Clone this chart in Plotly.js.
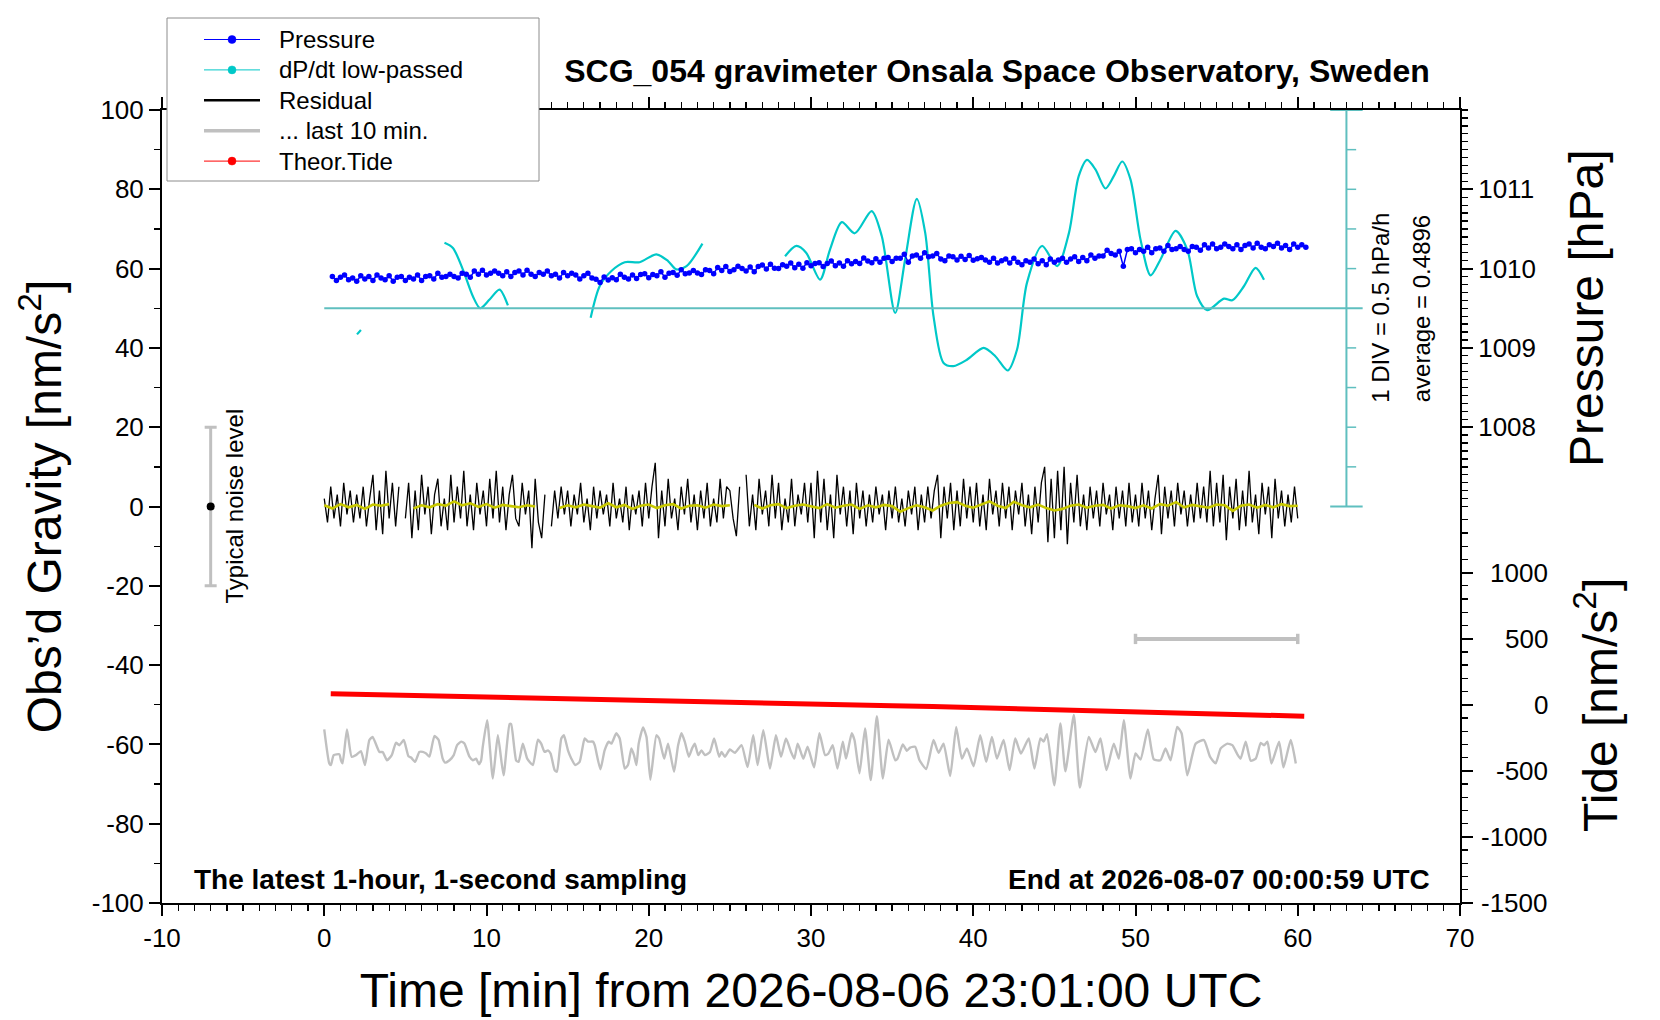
<!DOCTYPE html>
<html><head><meta charset="utf-8">
<script src="https://cdn.plot.ly/plotly-3.0.1.min.js"></script>
<style>html,body{margin:0;padding:0;background:#fff}#chart{width:1660px;height:1020px}</style>
</head><body><div id="chart"></div>
<script>
// ---------------- DATA ----------------
const chartTitle = 'SCG_054 gravimeter Onsala Space Observatory, Sweden';
const xTitle = 'Time [min] from 2026-08-06 23:01:00 UTC';
const endText = 'End at 2026-08-07 00:00:59 UTC';
const windowText = 'The latest 1-hour, 1-second sampling';

const xTickVals = [-10,0,10,20,30,40,50,60,70];
const xTickText = ['-10','0','10','20','30','40','50','60','70'];
const gTickVals = [-100,-80,-60,-40,-20,0,20,40,60,80,100];
const gTickText = ['-100','-80','-60','-40','-20','0','20','40','60','80','100'];
const pTickVals = [1008,1009,1010,1011];
const pTickText = ['1008','1009','1010','1011'];
const tideTickVals = [-1500,-1000,-500,0,500,1000];
const tideTickText = ['-1500','-1000','-500','0','500','1000'];

// Pressure [hPa], every 0.25 min from 0.5 min
const pressureStart = 0.5, pressureStep = 0.25;
const pressure = [
 1009.90,1009.85,1009.89,1009.92,1009.86,1009.88,1009.84,1009.91,1009.87,1009.90,1009.85,1009.92,1009.88,1009.86,1009.91,1009.84,1009.89,1009.90,1009.85,1009.89,
 1009.87,1009.92,1009.85,1009.90,1009.91,1009.87,1009.94,1009.89,1009.90,1009.93,1009.90,1009.88,1009.94,1009.93,1009.89,1009.97,1009.93,1009.98,1009.92,1009.94,
 1009.97,1009.94,1009.91,1009.96,1009.90,1009.95,1009.97,1009.92,1009.98,1009.93,1009.90,1009.95,1009.93,1009.97,1009.91,1009.93,1009.88,1009.95,1009.91,1009.94,
 1009.92,1009.87,1009.91,1009.94,1009.88,1009.865,1009.825,1009.895,1009.855,1009.885,1009.86,1009.93,1009.89,1009.87,1009.92,1009.875,1009.925,1009.935,1009.885,1009.925,
 1009.91,1009.96,1009.89,1009.94,1009.95,1009.915,1009.985,1009.935,1009.945,1009.975,1009.945,1009.925,1009.985,1009.975,1009.935,1010.015,1009.975,1010.025,1009.965,1009.985,
 1010.03,1010.00,1009.97,1010.02,1009.96,1010.025,1010.045,1009.995,1010.055,1010.005,1010.00,1010.05,1010.03,1010.07,1010.01,1010.055,1010.005,1010.075,1010.035,1010.065,
 1010.075,1010.025,1010.065,1010.095,1010.035,1010.07,1010.03,1010.10,1010.06,1010.09,1010.065,1010.135,1010.095,1010.075,1010.125,1010.08,1010.13,1010.14,1010.09,1010.13,
 1010.13,1010.18,1010.08,1010.16,1010.17,1010.13,1010.20,1010.15,1010.16,1010.19,1010.12,1010.10,1010.16,1010.15,1010.11,1010.155,1010.115,1010.165,1010.105,1010.125,
 1010.14,1010.11,1010.08,1010.13,1010.07,1010.10,1010.12,1010.07,1010.13,1010.08,1010.05,1010.10,1010.08,1010.12,1010.06,1010.10,1010.05,1010.12,1010.08,1010.11,
 1010.13,1010.08,1010.12,1010.15,1010.09,1010.14,1010.10,1010.17,1010.13,1010.16,1010.16,1010.23,1010.19,1010.17,1010.22,1010.03,1010.24,1010.25,1010.20,1010.24,
 1010.22,1010.27,1010.20,1010.25,1010.26,1010.22,1010.29,1010.24,1010.25,1010.28,1010.24,1010.22,1010.28,1010.27,1010.23,1010.30,1010.26,1010.31,1010.25,1010.27,
 1010.31,1010.28,1010.25,1010.30,1010.24,1010.29,1010.31,1010.26,1010.32,1010.27,1010.25,1010.30,1010.28,1010.32,1010.26,1010.29,1010.24,1010.31,1010.27,1010.30,
 1010.27
];

// dP/dt low-passed [hPa/h]
const dpdtAverage = 0.4896;
const dpdtDiv = 0.5;
const dpdtTime = [2.02,2.26,4.5,
 7.41,7.93,8.54,9.16,9.61,10.19,10.8,11.32,14.0,
 16.42,16.98,17.7,18.52,19.44,20.47,21.19,21.7,22.33,23.31,26.0,
 28.4,29.1,29.7,30.56,31.17,31.9,32.7,33.74,34.36,35.19,35.8,36.52,37.04,37.55,
 38.17,38.78,39.61,40.64,41.36,42.12,42.7,43.31,44.24,45.17,45.9,46.5,47.02,47.53,
 48.15,48.66,49.18,49.69,50.31,50.93,51.54,52.47,53.19,53.8,54.42,55.45,55.97,
 56.69,57.4,57.92];
const dpdtValue = [0.160,0.215,null,
 1.315,1.250,0.980,0.640,0.490,0.600,0.725,0.525,null,
 0.370,0.770,0.960,1.070,1.070,1.170,1.085,0.980,1.020,1.305,null,
 1.145,1.275,1.190,0.850,1.230,1.575,1.435,1.715,1.400,0.430,1.105,1.870,1.440,0.390,
 -0.200,-0.240,-0.160,-0.010,-0.115,-0.295,-0.030,0.810,1.275,1.020,1.440,2.155,2.360,2.240,
 2.000,2.155,2.340,2.115,1.355,0.905,1.105,1.465,1.230,0.640,0.465,0.610,0.590,
 0.770,1.000,0.850];

// Residual [nm/s^2], every 0.2 min from 0
const residualStart = 0, residualStep = 0.2;
const residual = [
 2,-4,5,-3,3,-5,6,-2,4,-4,3,-3,5,-5,2,8,-6,4,-7,9,-3,6,-5,5,null,
 -3,6,-8,4,-6,8,-2,5,-7,3,7,-5,2,-6,8,-4,5,-3,9,-5,3,-6,6,-2,4,
 -5,7,-3,9,-4,5,-6,3,8,-3,-5,6,-2,4,-10.5,7,-4,-8,3,null,-5,4,-3,5,-2,
 4,-5,3,-2,6,-4,2,-6,5,-3,4,-2,3,-5,6,-3,2,-4,5,-6,3,-2,4,-5,6,
 -3,5,11,-8,4,-5,7,-3,2,-6,5,-2,7,-4,3,-6,4,-3,6,-5,2,-4,7,-3,5,
 4,-3,-7.5,5,null,8,-5,3,-6,7,-2,4,-5,8,-3,6,-6,2,-4,7,-5,3,-2,6,-4,
 6,-8,9,-4,7,-6,3,-8,8,-2,5,-5,4,-7,6,-3,4,-5,3,-4,5,-2,3,-6,4,
 -3,5,-4,2,-5,4,-2,5,-6,3,-4,5,-3,4,8,-8,5,-3,6,-6,4,-5,7,-3,5,
 -4,6,-5,3,-6,7,-2,4,-5,6,-3,5,-6,4,-2,6,-5,3,-7,5,-4,6,10,-9,7,
 -8,9,-6,10,-9.5,6,-4,8,-5,3,-6,5,-3,4,-5,6,-2,3,-6,5,-3,4,-5,6,-4,
 3,-5,6,-3,4,-6,2,8,-7,5,-3,4,-5,6,-2,4,-5,3,-4,6,-3,5,-4,9,-5,
 6,-4,8,-8.5,5,-3,7,-6,4,-5,9,-4,3,-7,6,-2,5,-8,7,-3,4,-5,3,-4,5,
 -3
];

// Low-passed residual [nm/s^2], every 0.5 min from 0
const lowpassStart = 0, lowpassStep = 0.5;
const lowpass = [
 0.3,-0.5,0.6,-0.2,0.4,-0.6,0.5,0.2,0.6,
 null,null,
 -0.5,0.3,-0.2,0.6,0.2,1.3,0.3,0.8,-0.1,0.6,-0.3,0.4,0.1,-0.2,0.3,0.0,
 null,null,
 -0.4,0.3,-0.2,0.5,0.1,-0.3,0.8,-0.2,0.4,-0.6,0.2,0.5,-0.4,0.3,0.6,-0.5,0.2,0.3,-0.3,0.5,0.1,0.3,
 null,null,
 0.4,-0.5,0.3,0.6,-0.4,0.2,0.5,0.1,
 -0.4,0.6,-0.3,0.2,0.5,-0.6,0.3,-0.2,0.4,0.1,
 -1.3,-0.4,0.3,-0.2,-1.0,0.2,0.9,1.1,0.2,-0.3,
 0.4,1.3,0.2,-0.4,1.2,0.3,-0.2,0.5,-0.4,-1.0,
 -0.6,0.2,0.5,-0.3,0.2,0.4,-0.5,0.3,0.1,-0.4,
 0.3,-0.5,0.6,0.2,1.1,-0.2,0.4,0.1,-0.3,0.5,
 0.3,-1.1,0.2,0.5,-0.3,0.4,-0.2,0.6,0.1,0.2
];

// "... last 10 min." (offset trace, gravity units)
const lastTime = [
 0.00,0.31,0.41,0.58,0.93,1.03,1.13,1.40,1.69,1.95,
 2.26,2.51,2.78,2.98,3.40,3.60,3.87,4.16,4.42,4.63,
 4.90,5.19,5.35,5.60,5.86,6.07,6.28,6.48,6.79,7.04,
 7.30,7.45,7.72,7.98,8.19,8.44,8.64,8.95,9.16,9.36,
 9.53,9.67,9.77,10.04,10.39,10.70,11.05,11.42,11.52,11.83,
 11.98,12.24,12.51,12.86,13.17,13.37,13.58,13.79,13.95,14.20,
 14.34,14.61,14.77,15.02,15.23,15.47,15.74,16.05,16.26,16.56,
 16.67,17.02,17.28,17.53,17.70,18.00,18.21,18.52,18.72,18.93,
 19.09,19.24,19.38,19.65,19.86,20.10,20.47,20.64,20.95,21.19,
 21.56,21.81,22.02,22.22,22.47,22.67,22.84,23.05,23.25,23.46,
 23.77,24.03,24.34,24.49,24.69,25.00,25.31,25.72,26.09,26.44,
 26.71,27.06,27.47,27.84,28.15,28.46,28.77,28.97,29.18,29.53,
 29.79,30.19,30.52,30.87,31.07,31.34,31.63,31.96,32.16,32.51,
 32.68,32.99,33.33,33.68,34.06,34.43,34.78,35.19,35.33,35.66,
 35.91,36.11,36.42,36.69,37.10,37.55,37.86,38.17,38.58,38.95,
 39.30,39.61,40.02,40.43,40.80,41.15,41.46,41.87,42.24,42.59,
 42.94,43.42,43.77,44.14,44.34,44.55,45.00,45.37,45.68,46.20,
 46.57,47.12,47.53,47.84,48.21,48.66,48.97,49.28,49.69,50.00,
 50.31,50.76,51.13,51.54,51.85,52.16,52.57,52.84,53.19,53.71,
 54.22,54.59,54.94,55.25,55.66,55.97,56.28,56.48,56.79,57.10,
 57.41,57.72,57.92,58.13,58.38,58.85,59.12,59.57,59.88
];
const lastValue = [
 -56.2,-64.8,-65.2,-62.7,-62.5,-64.0,-64.8,-56.2,-63.1,-62.7,
 -61.7,-65.2,-58.9,-58.1,-61.9,-61.9,-64.0,-62.7,-59.6,-60.2,
 -58.9,-63.0,-63.3,-64.4,-61.9,-61.9,-62.3,-63.1,-57.9,-58.8,
 -63.6,-64.6,-64.0,-62.7,-60.2,-59.3,-59.8,-63.1,-64.0,-63.6,
 -65.0,-64.0,-60.6,-53.9,-68.6,-57.7,-67.8,-54.9,-54.9,-64.1,
 -64.4,-59.8,-63.6,-65.2,-58.8,-59.8,-61.9,-61.5,-62.3,-66.5,
 -66.9,-58.5,-57.7,-61.5,-63.6,-65.2,-64.4,-58.5,-59.3,-59.3,
 -60.2,-66.3,-61.5,-59.3,-59.8,-57.2,-58.5,-66.1,-65.2,-61.0,
 -62.7,-65.2,-59.8,-55.7,-58.1,-68.9,-57.7,-58.5,-63.6,-59.8,
 -66.9,-60.2,-57.2,-59.3,-63.1,-61.0,-59.8,-62.7,-61.5,-62.7,
 -61.9,-58.5,-63.1,-61.9,-63.1,-61.3,-62.1,-60.2,-65.7,-57.7,
 -65.2,-56.4,-66.1,-57.7,-63.1,-58.5,-61.9,-63.6,-59.8,-63.6,
 -60.6,-65.8,-57.2,-62.7,-62.3,-60.2,-66.1,-59.3,-63.6,-57.2,
 -58.9,-67.3,-56.0,-69.0,-52.9,-68.6,-58.8,-64.0,-63.6,-60.0,
 -61.6,-60.8,-60.6,-64.0,-66.2,-58.9,-62.1,-59.8,-68.0,-55.6,
 -63.6,-61.0,-65.5,-57.7,-64.4,-58.1,-63.6,-58.9,-66.5,-58.5,
 -62.3,-58.5,-66.1,-58.5,-59.3,-57.4,-70.3,-54.7,-66.8,-52.6,
 -70.9,-58.1,-61.9,-58.5,-66.5,-59.8,-63.6,-53.9,-68.6,-62.3,
 -63.8,-56.2,-63.8,-64.0,-61.0,-64.0,-55.6,-57.2,-67.8,-59.8,
 -58.9,-63.1,-64.8,-61.0,-59.8,-60.2,-62.5,-63.6,-59.3,-64.1,
 -63.6,-59.6,-60.2,-59.3,-64.8,-59.3,-65.8,-58.9,-64.8
];

// Theoretical tide [nm/s^2]
const tideTime = [0.4,2.5,5,7.5,10,12.5,15,17.5,20,22.5,25,27.5,30,32.5,35,37.5,40,42.5,45,47.5,50,52.5,55,57.5,60,60.4];
const tideValue = [84,79,73,67,61,55,48,42,35,28,22,15,8,1,-7,-14,-21,-29,-36,-44,-52,-60,-68,-77,-85,-87];

// Typical noise level marker and "last 10 min" bar
const noiseTime = -7, noiseLevel = 20;
const lastWindowTime = [50, 60], lastWindowLevel = -33.4;

// Legend entries
const legendNames = ['Pressure','dP/dt low-passed','Residual','... last 10 min.','Theor.Tide'];

// ---------------- LAYOUT HELPERS ----------------
const FONT = 'Liberation Sans, Arial, Helvetica, sans-serif';
const W = 1660, H = 1020;
const M = {l:162, r:200, t:110, b:117};
const PW = W - M.l - M.r, PH = H - M.t - M.b;
const pxX = v => (v - M.l) / PW;
const pxY = v => (H - M.b - v) / PH;

const C = {pressure:'#0000ff', dpdt:'#00c8c8', dpdtScale:'#5fbfbf', residual:'#000000',
           lowpass:'#c8c800', last:'#c0c0c0', tide:'#ff0000'};

const seq = (start, step, n) => Array.from({length:n}, (_, i) => +(start + i*step).toFixed(3));

const traces = [
  {x: dpdtTime, y: dpdtValue, yaxis:'y4', type:'scatter', mode:'lines', connectgaps:false,
   line:{color:C.dpdt, width:2.2, shape:'spline', smoothing:0.8}, hoverinfo:'skip'},
  {x: seq(residualStart, residualStep, residual.length), y: residual, type:'scatter', mode:'lines',
   connectgaps:false, line:{color:C.residual, width:1.3}, hoverinfo:'skip'},
  {x: seq(lowpassStart, lowpassStep, lowpass.length), y: lowpass, type:'scatter', mode:'lines',
   connectgaps:false, line:{color:C.lowpass, width:2.6}, hoverinfo:'skip'},
  {x: lastTime, y: lastValue, type:'scatter', mode:'lines',
   line:{color:C.last, width:2.4, shape:'spline', smoothing:0.5}, hoverinfo:'skip'},
  {x: [noiseTime], y:[0], type:'scatter', mode:'markers',
   marker:{color:'#000', size:8},
   error_y:{type:'data', array:[noiseLevel], visible:true, color:C.last, thickness:3, width:6}, hoverinfo:'skip'},
  {x: lastWindowTime, y:[lastWindowLevel, lastWindowLevel], type:'scatter', mode:'lines',
   line:{color:C.last, width:4},
   error_y:{type:'data', array:[1.3,1.3], visible:true, color:C.last, thickness:3.5, width:0}, hoverinfo:'skip'},
  {x: seq(pressureStart, pressureStep, pressure.length), y: pressure, yaxis:'y2', type:'scatter',
   mode:'lines+markers', line:{color:C.pressure, width:1.5}, marker:{color:C.pressure, size:5.5}, hoverinfo:'skip'},
  {x: tideTime, y: tideValue, yaxis:'y3', type:'scatter', mode:'lines',
   line:{color:C.tide, width:5}, hoverinfo:'skip'}
];

const axisCommon = {
  ticks:'outside', ticklen:11, tickwidth:2, tickcolor:'#000',
  showline:true, linewidth:2, linecolor:'#000', showgrid:false, zeroline:false,
  tickfont:{family:FONT, size:26, color:'#000'}, automargin:false, fixedrange:true
};

// cyan dP/dt scale shapes
const shapes = [];
const cyanLine = (x0,y0,x1,y1,w) => shapes.push({type:'line', xref:'x', yref:'y4', x0, y0, x1, y1,
  line:{color:C.dpdtScale, width:w||2}, layer:'above'});
cyanLine(0, dpdtAverage, 64.0, dpdtAverage, 2);
cyanLine(63.0, dpdtAverage - 5*dpdtDiv, 63.0, dpdtAverage + 5*dpdtDiv, 2);
cyanLine(62.0, dpdtAverage + 5*dpdtDiv, 64.0, dpdtAverage + 5*dpdtDiv, 2);
cyanLine(62.0, dpdtAverage - 5*dpdtDiv, 64.0, dpdtAverage - 5*dpdtDiv, 2);
for (let k = -4; k <= 4; k++) { if (k !== 0) cyanLine(63.0, dpdtAverage + k*dpdtDiv, 63.6, dpdtAverage + k*dpdtDiv, 1.5); }

// manual legend
shapes.push({type:'rect', xref:'paper', yref:'paper', x0:pxX(167), x1:pxX(539), y0:pxY(181), y1:pxY(18),
  fillcolor:'#fff', line:{color:'#8c8c8c', width:1}, layer:'above'});
const legendStyle = [
  {color:C.pressure, width:1, dot:true},
  {color:C.dpdt, width:1, dot:true},
  {color:C.residual, width:2.5, dot:false},
  {color:C.last, width:3.5, dot:false},
  {color:C.tide, width:1, dot:true}
];
const annotations = [];
legendNames.forEach((name, i) => {
  const yy = 39.5 + 30.4*i;
  const st = legendStyle[i];
  shapes.push({type:'line', xref:'paper', yref:'paper', x0:pxX(204), x1:pxX(260), y0:pxY(yy), y1:pxY(yy),
    line:{color:st.color, width:st.width}, layer:'above'});
  if (st.dot) shapes.push({type:'circle', xref:'paper', yref:'paper', x0:pxX(228), x1:pxX(236), y0:pxY(yy+4), y1:pxY(yy-4),
    fillcolor:st.color, line:{color:st.color, width:0.5}, layer:'above'});
  annotations.push({xref:'paper', yref:'paper', x:pxX(277), y:pxY(yy), xanchor:'left', yanchor:'middle',
    text:name, showarrow:false, font:{family:FONT, size:24, color:'#000'}});
});

// tide tick labels (right aligned)
tideTickVals.forEach((v, i) => annotations.push({xref:'paper', yref:'y3', x:pxX(1550), y:v, xanchor:'right', yanchor:'middle',
  text:tideTickText[i], showarrow:false, font:{family:FONT, size:26, color:'#000'}}));

annotations.push(
  {xref:'x', yref:'y', x:-5.56, y:0, text:'Typical noise level', textangle:-90, showarrow:false,
   xanchor:'center', yanchor:'middle', font:{family:FONT, size:24, color:'#000'}},
  {xref:'x', yref:'y', x:65.1, y:50, text:'1 DIV = ' + dpdtDiv + ' hPa/h', textangle:-90, showarrow:false,
   xanchor:'center', yanchor:'middle', font:{family:FONT, size:24, color:'#000'}},
  {xref:'x', yref:'y', x:67.6, y:50, text:'average = ' + dpdtAverage, textangle:-90, showarrow:false,
   xanchor:'center', yanchor:'middle', font:{family:FONT, size:24, color:'#000'}},
  {xref:'x', yref:'y', x:-8.15, y:-94, text:windowText, showarrow:false, xanchor:'left', yanchor:'middle',
   font:{family:FONT, size:28, color:'#000', weight:'bold'}},
  {xref:'x', yref:'y', x:68.3, y:-94, text:endText, showarrow:false, xanchor:'right', yanchor:'middle',
   font:{family:FONT, size:28, color:'#000', weight:'bold'}}
);

const layout = {
  width:W, height:H, autosize:false, margin:{l:M.l, r:M.r, t:M.t, b:M.b, pad:0},
  paper_bgcolor:'#fff', plot_bgcolor:'rgba(0,0,0,0)', showlegend:false, hovermode:false,
  font:{family:FONT, color:'#000'},
  title:{text:chartTitle, x:997/W, y:1-71/H, xref:'container', yref:'container', xanchor:'center', yanchor:'middle',
         font:{family:FONT, size:32, color:'#000', weight:'bold'}},
  xaxis: Object.assign({}, axisCommon, {range:[-10,70], tickmode:'array', tickvals:xTickVals, ticktext:xTickText,
    mirror:'ticks',
    minor:{tickmode:'linear', tick0:0, dtick:1, ticks:'outside', ticklen:6, tickwidth:1.3, tickcolor:'#000', showgrid:false},
    title:{text:xTitle, font:{family:FONT, size:48, color:'#000'}, standoff:21}}),
  yaxis: Object.assign({}, axisCommon, {range:[-100,100], tickmode:'array', tickvals:gTickVals, ticktext:gTickText,
    mirror:true,
    minor:{tickmode:'linear', tick0:0, dtick:10, ticks:'outside', ticklen:6, tickwidth:1.3, tickcolor:'#000', showgrid:false},
    title:{text:'Obs’d Gravity [nm/s<sup>2</sup>]', font:{family:FONT, size:48, color:'#000'}, standoff:15}}),
  yaxis2: Object.assign({}, axisCommon, {domain:[0.5,1], anchor:'x', side:'right', range:[1007,1012],
    tickmode:'array', tickvals:pTickVals, ticktext:pTickText,
    minor:{tickmode:'linear', tick0:1007, dtick:0.1, ticks:'outside', ticklen:6, tickwidth:1.3, tickcolor:'#000', showgrid:false},
    title:{text:'Pressure [hPa]', font:{family:FONT, size:48, color:'#000'}, standoff:34}}),
  yaxis3: Object.assign({}, axisCommon, {domain:[0,0.5], anchor:'x', side:'right', range:[-1500,1500],
    tickmode:'array', tickvals:tideTickVals, showticklabels:false,
    minor:{tickmode:'linear', tick0:-1500, dtick:100, ticks:'outside', ticklen:6, tickwidth:1.3, tickcolor:'#000', showgrid:false},
    title:{text:'Tide [nm/s<sup>2</sup>]', font:{family:FONT, size:48, color:'#000'}, standoff:111}}),
  yaxis4: {overlaying:'y', range:[dpdtAverage - 15*dpdtDiv, dpdtAverage + 5*dpdtDiv], visible:false, fixedrange:true},
  shapes, annotations
};

Plotly.newPlot('chart', traces, layout, {staticPlot:true, displayModeBar:false});
</script></body></html>
